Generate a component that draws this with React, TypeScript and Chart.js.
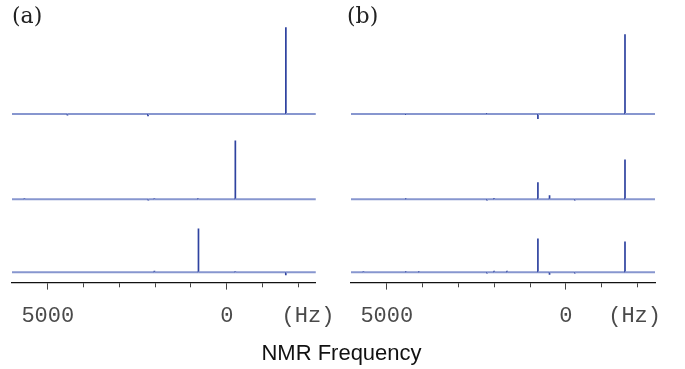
import React, { useEffect, useRef } from "react";
import { Chart, registerables } from "chart.js";

Chart.register(...registerables);

// ---------- data ----------
const FREQ_MIN = -2490; // Hz (right edge)
const FREQ_MAX = 6000; // Hz (left edge)
const tickValues = [5000, 4000, 3000, 2000, 1000, 0, -1000, -2000];
const majorTicks = [5000, 0];
const unitLabel = "(Hz)";
const unitPosA = -2270;
const unitPosB = -1920;
const panelLabels = ["(a)", "(b)"];
const axisTitle = "NMR Frequency";

// stacking offsets of the three spectra (intensity units)
const offsets = [194, 96, 12];

// panel (a)
const aTopFreq = [4450, 2200, -1652];
const aTopInt = [-1.5, -2.5, 100];
const aMidFreq = [5650, 2190, 2020, 800, -240];
const aMidInt = [1.2, -1.5, 1.2, 1, 67.5];
const aBotFreq = [2020, 790, -240, -1650];
const aBotInt = [1.5, 50.2, 1.2, -3.5];

// panel (b)
const bTopFreq = [4465, 2200, 780, -1652];
const bTopInt = [-1.2, 1.2, -5.7, 92];
const bMidFreq = [4465, 2200, 2000, 780, 455, -250, -1652];
const bMidInt = [1.2, -1.5, 1.5, 19.5, 4.6, -1.5, 45.6];
const bBotFreq = [5650, 4465, 4100, 2200, 2000, 1640, 780, 455, -250, -1652];
const bBotInt = [1, 1, 1, -1.5, 1.5, 1.5, 38.7, -2.9, -1.5, 35.3];

const Y_MAX = 300;

// ---------- styles ----------
const STICK = "#2f43a0";
const BASE = "#8796cf";

function stickPoints(freqs: number[], ints: number[], base: number) {
  const pts: { x: number; y: number }[] = [{ x: FREQ_MAX, y: base }];
  const idx = freqs.map((_, i) => i).sort((a, b) => freqs[b] - freqs[a]);
  for (const i of idx) {
    pts.push({ x: freqs[i], y: base });
    pts.push({ x: freqs[i], y: base + ints[i] });
    pts.push({ x: freqs[i], y: base });
  }
  pts.push({ x: FREQ_MIN, y: base });
  return pts;
}

function makeDataset(freqs: number[], ints: number[], base: number) {
  return {
    data: stickPoints(freqs, ints, base),
    borderColor: STICK,
    borderWidth: 1.7,
    pointRadius: 0,
    tension: 0,
    fill: false,
    segment: {
      borderColor: (ctx: any) => (Math.abs(ctx.p0.y - ctx.p1.y) < 0.01 ? BASE : STICK),
      borderWidth: (ctx: any) => (Math.abs(ctx.p0.y - ctx.p1.y) < 0.01 ? 2 : 1.7),
    },
  };
}

function Panel({
  spectra,
  unitPos,
  padLeft,
  padRight,
  width,
}: {
  spectra: [number[], number[]][];
  unitPos: number;
  padLeft: number;
  padRight: number;
  width: number;
}) {
  const ref = useRef<HTMLCanvasElement>(null);
  useEffect(() => {
    if (!ref.current) return;
    const chart = new Chart(ref.current, {
      type: "line",
      data: {
        datasets: spectra.map(([f, v], i) => makeDataset(f, v, offsets[i])) as any,
      },
      options: {
        animation: false,
        responsive: false,
        maintainAspectRatio: false,
        layout: { padding: { top: 22, bottom: 27, left: padLeft, right: padRight } },
        plugins: { legend: { display: false }, tooltip: { enabled: false } },
        scales: {
          x: {
            type: "linear",
            reverse: true,
            min: FREQ_MIN,
            max: FREQ_MAX,
            afterBuildTicks: (scale: any) => {
              scale.ticks = [...tickValues, unitPos].map((v) => ({ value: v }));
            },
            border: { display: true, color: "#111", width: 1.3 },
            grid: {
              drawOnChartArea: false,
              drawTicks: true,
              tickLength: 7,
              tickWidth: 1,
              tickColor: (ctx: any) =>
                ctx.tick && ctx.tick.value === unitPos ? "rgba(0,0,0,0)" : "#444",
              tickBorderDash: (ctx: any) =>
                ctx.tick && majorTicks.includes(ctx.tick.value) ? [] : [4, 40],
            },
            ticks: {
              autoSkip: false,
              maxRotation: 0,
              padding: 13,
              color: "#4a4a4a",
              font: { family: "'Liberation Mono', monospace", size: 22 },
              callback: (value: any) => {
                const v = Number(value);
                if (v === unitPos) return unitLabel;
                if (majorTicks.includes(v)) return String(v);
                return "";
              },
            },
          },
          y: {
            type: "linear",
            display: false,
            min: 0,
            max: Y_MAX,
          },
        },
      },
    });
    return () => chart.destroy();
  }, []);
  return <canvas ref={ref} width={width} height={369} />;
}

export default function App() {
  return (
    <div
      style={{
        position: "fixed",
        left: 0,
        top: 0,
        width: 685,
        height: 369,
        background: "#fff",
        overflow: "hidden",
      }}
    >
      <div style={{ position: "absolute", left: 0, top: 0 }}>
        <Panel
          spectra={[
            [aTopFreq, aTopInt],
            [aMidFreq, aMidInt],
            [aBotFreq, aBotInt],
          ]}
          unitPos={unitPosA}
          padLeft={12}
          padRight={23}
          width={348}
        />
      </div>
      <div style={{ position: "absolute", left: 340, top: 0 }}>
        <Panel
          spectra={[
            [bTopFreq, bTopInt],
            [bMidFreq, bMidInt],
            [bBotFreq, bBotInt],
          ]}
          unitPos={unitPosB}
          padLeft={11}
          padRight={30}
          width={345}
        />
      </div>
      {panelLabels.map((t, i) => (
        <div
          key={t}
          style={{
            position: "absolute",
            left: i === 0 ? 12 : 347,
            top: 5,
            fontFamily: "'DejaVu Serif', serif",
            fontSize: 22,
            lineHeight: "22px",
            color: "#222",
          }}
        >
          {t}
        </div>
      ))}
      <div
        style={{
          position: "absolute",
          left: 0,
          width: 685,
          top: 342,
          textAlign: "center",
          fontFamily: "'Liberation Sans', Arial, sans-serif",
          fontSize: 22,
          lineHeight: "22px",
          color: "#111",
        }}
      >
        <span style={{ position: "relative", left: -1 }}>{axisTitle}</span>
      </div>
    </div>
  );
}
